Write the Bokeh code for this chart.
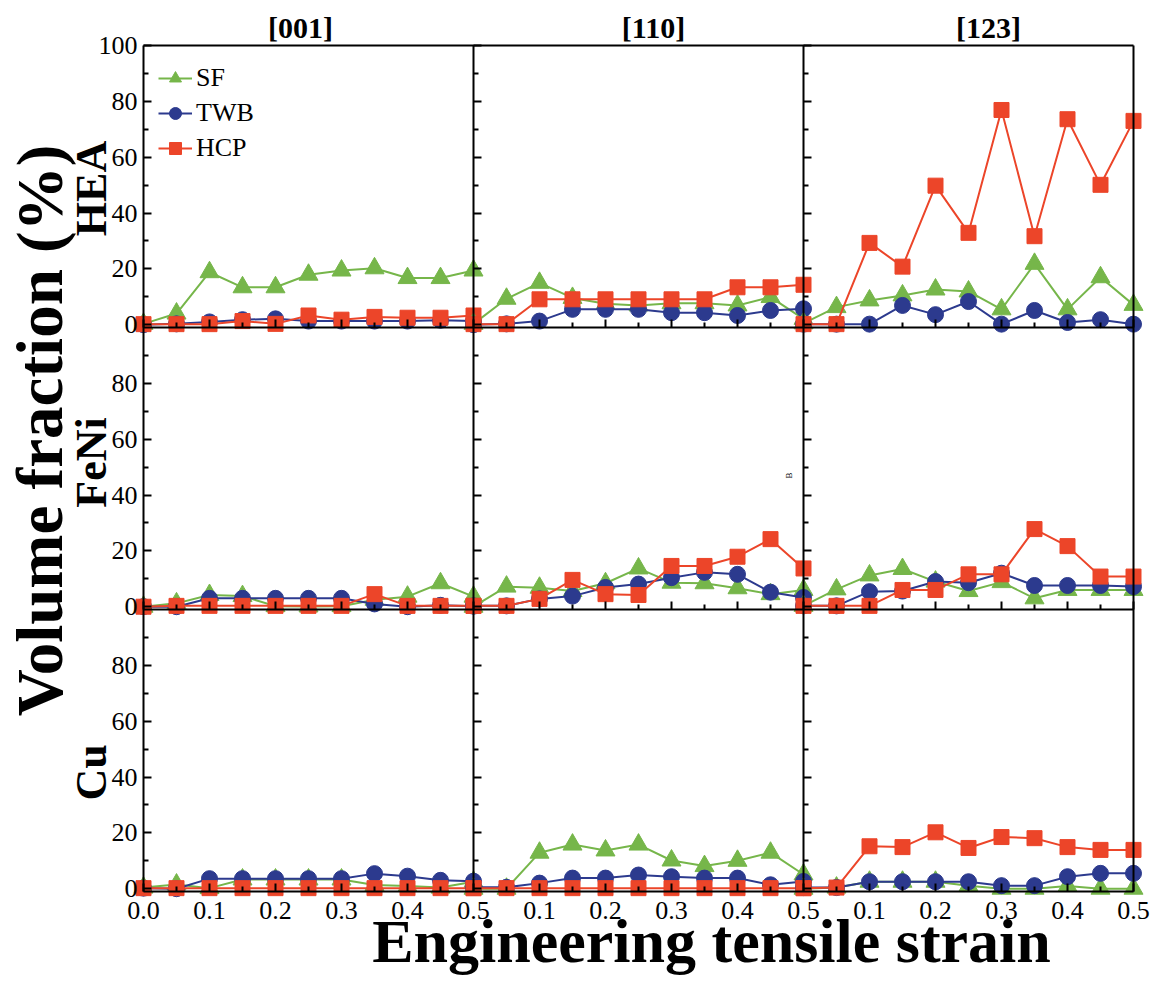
import math
from bokeh.plotting import figure
from bokeh.models import Range1d, LinearAxis, FixedTicker, Label, Legend, LegendItem
from bokeh.embed import file_html
from bokeh.resources import INLINE

# ---------------- data ----------------
strain = [0.0, 0.05, 0.1, 0.15, 0.2, 0.25, 0.3, 0.35, 0.4, 0.45, 0.5]
materials = ["HEA", "FeNi", "Cu"]
orientations = ["[001]", "[110]", "[123]"]
series_names = ["SF", "TWB", "HCP"]

hea_001_sf = [0.3, 4.0, 18.8, 13.4, 13.4, 17.9, 19.4, 20.2, 16.7, 16.7, 19.4]
hea_001_twb = [0.0, 0.3, 1.0, 1.8, 2.1, 1.3, 1.3, 1.3, 1.3, 1.6, 1.3]
hea_001_hcp = [0.2, 0.2, 0.2, 1.3, 0.3, 3.3, 1.8, 2.8, 2.5, 2.5, 3.3]

hea_110_sf = [0.3, 9.3, 15.0, 9.6, 7.5, 6.9, 7.7, 7.7, 6.9, 9.9, 2.1]
hea_110_twb = [0.0, 0.3, 1.3, 5.5, 5.5, 5.5, 4.3, 4.3, 3.3, 5.1, 5.7]
hea_110_hcp = [0.2, 0.2, 9.1, 9.1, 9.1, 9.1, 9.1, 9.1, 13.4, 13.4, 14.3]

hea_123_sf = [0.5, 6.3, 8.7, 10.5, 12.6, 11.9, 5.5, 21.8, 5.5, 17.0, 7.1]
hea_123_twb = [0.2, 0.2, 0.2, 6.9, 3.6, 8.3, 0.2, 5.1, 0.8, 1.8, 0.2]
hea_123_hcp = [0.2, 0.2, 29.3, 20.8, 49.8, 32.9, 76.9, 31.7, 73.6, 50.1, 73.0]

feni_001_sf = [0.0, 1.2, 4.2, 3.8, 0.2, 0.1, 0.2, 2.5, 3.6, 8.4, 3.6]
feni_001_twb = [0.0, 0.0, 3.0, 3.0, 3.0, 3.0, 3.0, 1.0, 0.0, 0.5, 0.2]
feni_001_hcp = [0.0, 0.3, 0.3, 0.3, 0.3, 0.3, 0.3, 4.5, 0.3, 0.3, 0.3]

feni_110_sf = [0.0, 7.2, 6.8, 5.6, 8.4, 13.7, 8.6, 8.4, 6.6, 4.5, 6.0]
feni_110_twb = [0.3, 0.3, 2.8, 3.8, 6.9, 8.1, 10.4, 12.3, 11.6, 5.2, 3.3]
feni_110_hcp = [0.3, 0.3, 2.8, 9.6, 4.5, 4.2, 14.6, 14.6, 17.9, 24.2, 13.7]

feni_123_sf = [0.3, 6.2, 11.2, 13.5, 9.0, 5.6, 8.8, 3.0, 6.0, 6.0, 6.0]
feni_123_twb = [0.3, 0.3, 5.4, 5.6, 9.0, 8.6, 12.0, 7.6, 7.6, 7.6, 7.2]
feni_123_hcp = [0.3, 0.3, 0.3, 6.0, 6.0, 11.6, 11.6, 27.8, 21.7, 10.8, 10.8]

cu_001_sf = [0.4, 1.5, 0.2, 3.3, 3.3, 3.3, 3.3, 1.3, 1.0, 0.4, 2.5]
cu_001_twb = [0.2, 0.0, 3.6, 3.6, 3.6, 3.6, 3.6, 5.4, 4.5, 3.0, 2.7]
cu_001_hcp = [0.2, 0.2, 0.2, 0.2, 0.2, 0.2, 0.2, 0.2, 0.2, 0.2, 0.2]

cu_110_sf = [0.0, 0.0, 12.9, 15.8, 13.7, 15.8, 10.1, 8.1, 10.0, 12.9, 5.1]
cu_110_twb = [0.5, 0.5, 2.0, 3.8, 3.8, 4.9, 4.3, 3.8, 3.8, 1.4, 2.6]
cu_110_hcp = [0.2, 0.2, 0.2, 0.2, 0.2, 0.2, 0.2, 0.2, 0.2, 0.2, 0.2]

cu_123_sf = [0.0, 0.4, 2.5, 2.5, 2.5, 1.1, 0.0, 0.0, 1.0, 0.0, 0.0]
cu_123_twb = [0.4, 0.4, 2.5, 2.5, 2.5, 2.5, 1.1, 1.1, 4.3, 5.5, 5.5]
cu_123_hcp = [0.2, 0.4, 15.2, 14.9, 20.2, 14.6, 18.5, 18.1, 14.9, 13.9, 13.9]

y_tick_values = [0, 20, 40, 60, 80]
y_minor_values = [10, 30, 50, 70, 90]
x_tick_labels = ["0.0", "0.1", "0.2", "0.3", "0.4", "0.5"]

panels = [
    [(hea_001_sf, hea_001_twb, hea_001_hcp), (hea_110_sf, hea_110_twb, hea_110_hcp), (hea_123_sf, hea_123_twb, hea_123_hcp)],
    [(feni_001_sf, feni_001_twb, feni_001_hcp), (feni_110_sf, feni_110_twb, feni_110_hcp), (feni_123_sf, feni_123_twb, feni_123_hcp)],
    [(cu_001_sf, cu_001_twb, cu_001_hcp), (cu_110_sf, cu_110_twb, cu_110_hcp), (cu_123_sf, cu_123_twb, cu_123_hcp)],
]

# ---------------- style / layout ----------------
colors = ["#76B64A", "#2C3A8E", "#EC4529"]
markers = ["triangle", "circle", "square"]
msizes = [19, 16, 15]
FONT = "Liberation Serif"

W, H = 1153, 990
LEFT, TOP, PW, PH = 143, 45, 990, 846      # panel block in pixels
ROW_SPAN = 101                              # each row spans -1 .. 100
YTOT = 3 * ROW_SPAN
PXX = 1.5 / PW
PXY = YTOT / PH

x0, x1 = -LEFT * PXX, (W - LEFT) * PXX
y1, y0 = YTOT + TOP * PXY, YTOT - (H - TOP) * PXY

p = figure(frame_width=W, frame_height=H, min_border=0,
           x_range=Range1d(x0, x1), y_range=Range1d(y0, y1),
           x_axis_type=None, y_axis_type=None,
           output_backend="svg", toolbar_location=None)
p.xgrid.visible = False
p.ygrid.visible = False
p.outline_line_color = None
p.background_fill_color = "white"
p.border_fill_color = "white"

p.extra_x_ranges = {f"c{c}": Range1d(x0 - 0.5 * c, x1 - 0.5 * c) for c in range(3)}
p.extra_y_ranges = {f"r{r}": Range1d(y0 - (2 - r) * ROW_SPAN - 1, y1 - (2 - r) * ROW_SPAN - 1) for r in range(3)}

legend_items = []
for r in range(3):
    for c in range(3):
        for k in range(3):
            vals = panels[r][c][k]
            ln = p.line(strain, vals, x_range_name=f"c{c}", y_range_name=f"r{r}",
                        line_color=colors[k], line_width=2)
            sc = p.scatter(strain, vals, x_range_name=f"c{c}", y_range_name=f"r{r}",
                           marker=markers[k], size=msizes[k],
                           fill_color=colors[k], line_color=colors[k])
            if r == 0 and c == 0:
                legend_items.append(LegendItem(label=series_names[k], renderers=[ln, sc]))

# ---------------- axes ----------------
x_major = [round(0.1 * i, 1) for i in range(16)]
x_minor = [round(0.05 + 0.1 * i, 2) for i in range(15)]
x_over = {}
for t in x_major:
    if t == 0:
        x_over[t] = x_tick_labels[0]
    else:
        local = int(round(t * 10)) % 5
        x_over[t] = x_tick_labels[5 if local == 0 else local]

y_major, y_over, y_minor = [], {}, []
for r in range(3):
    base = (2 - r) * ROW_SPAN + 1
    vals = y_tick_values + ([100] if r == 0 else [])
    for v in vals:
        t = base + v
        y_major.append(t)
        y_over[t] = str(v)
    for v in y_minor_values:
        y_minor.append(base + v)


def make_axis(ticks, minor, loc, bounds, show_labels, tick_len=8, minor_len=5, standoff=6):
    ax = LinearAxis(ticker=FixedTicker(ticks=ticks, minor_ticks=minor),
                    fixed_location=loc, bounds=bounds)
    ax.axis_line_width = 2
    ax.axis_line_color = "black"
    ax.major_tick_in = tick_len
    ax.major_tick_out = 0
    ax.minor_tick_in = minor_len
    ax.minor_tick_out = 0
    ax.major_tick_line_width = 2
    ax.minor_tick_line_width = 2
    ax.major_tick_line_color = "black" if tick_len else None
    ax.minor_tick_line_color = "black" if minor_len else None
    ax.major_label_text_font = FONT
    if show_labels:
        ax.major_label_text_font_size = "26px"
        ax.major_label_text_color = "black"
        ax.major_label_standoff = standoff
    else:
        ax.major_label_text_font_size = "1px"
        ax.major_label_text_color = None
        ax.major_label_standoff = 0
    return ax


xb = make_axis(x_major, x_minor, 0, (0, 1.5), True, standoff=10)
xb.major_label_overrides = x_over
p.add_layout(xb, "below")

yl = make_axis(y_major, y_minor, 0, (0, YTOT), True, standoff=6)
yl.major_label_overrides = y_over
p.add_layout(yl, "left")

for loc in [0.5, 1.0]:
    p.add_layout(make_axis(y_major, y_minor, loc, (0, YTOT), False), "left")
for loc in [ROW_SPAN, 2 * ROW_SPAN]:
    p.add_layout(make_axis(x_major, x_minor, loc, (0, 1.5), False), "below")
# closing frame lines (top and right)
p.add_layout(make_axis([], [], YTOT, (0, 1.5), False, 0, 0), "above")
p.add_layout(make_axis([], [], 1.5, (0, YTOT), False, 0, 0), "right")

# ---------------- legend ----------------
LEG_H = 3 * 30 + 2 * 5
leg = Legend(items=legend_items, location=(158, H - (63 + LEG_H)),
             label_text_font=FONT, label_text_font_size="26px", label_text_color="black",
             glyph_width=34, glyph_height=30, label_height=30, spacing=5,
             label_standoff=4, margin=0, padding=0,
             background_fill_alpha=0, border_line_color=None)
p.add_layout(leg)

# ---------------- texts ----------------
def lab(text, sx, sy, size, angle=0.0, bold=True):
    x = (sx - LEFT) * PXX
    y = YTOT - (sy - TOP) * PXY
    p.add_layout(Label(x=x, y=y, text=text, text_font=FONT, text_font_size=size,
                       text_font_style="bold" if bold else "normal",
                       text_align="center", text_baseline="middle", angle=angle,
                       text_color="black"))

for txt, sx in zip(orientations, [300, 653, 988]):
    lab(txt, sx, 27, "30px")
for txt, sy in zip(materials, [188, 462, 772]):
    lab(txt, 91, sy, "44px", angle=math.pi / 2)
lab("Volume fraction (%)", 39, 430, "65px", angle=math.pi / 2)
lab("Engineering tensile strain", 711, 940, "62px")
lab("B", 788, 475, "9px", angle=math.pi / 2, bold=False)

open("out.html", "w").write(file_html(p, INLINE))
